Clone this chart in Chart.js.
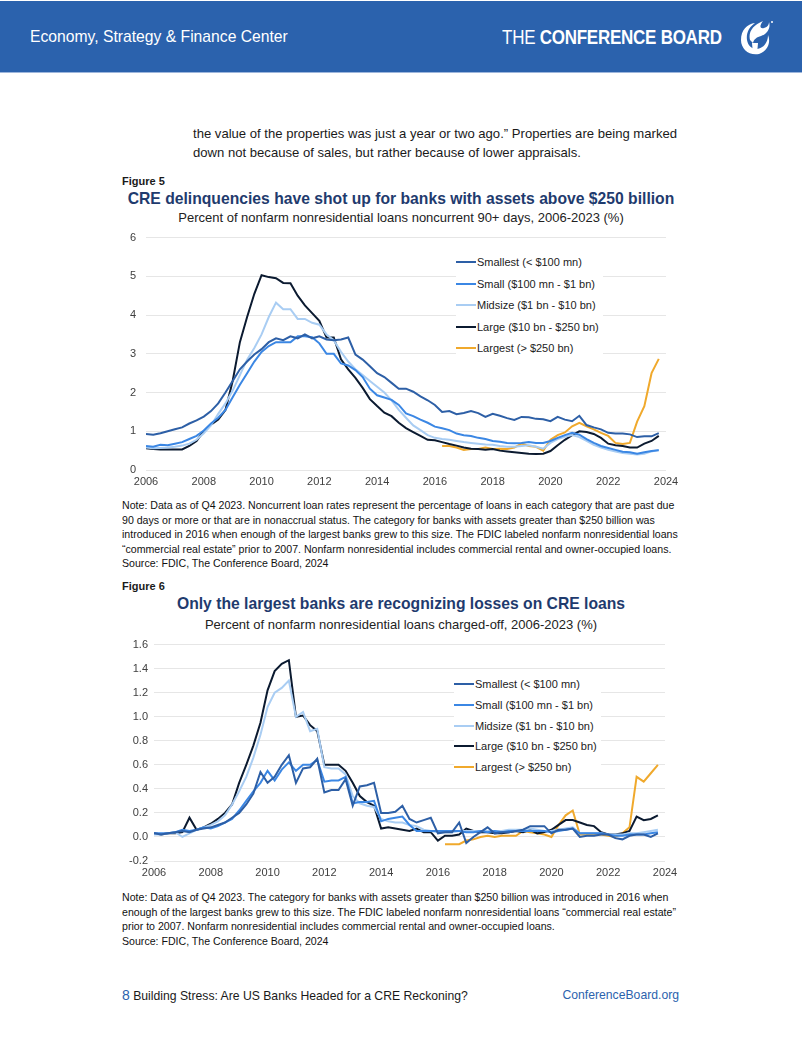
<!DOCTYPE html>
<html>
<head>
<meta charset="utf-8">
<script src="https://cdn.jsdelivr.net/npm/chart.js@4.4.1/dist/chart.umd.min.js"></script>
<style>
  body { margin: 0; width: 802px; height: 1037px; position: relative; overflow: hidden; background: #fff;
         font-family: "Liberation Sans", Arial, sans-serif; color: #1a1a1a; }
  .abs { position: absolute; white-space: nowrap; }
  #header { position: absolute; left: 0; top: 1px; width: 802px; height: 71px; background: #2b62ad; border-bottom: 1px solid #9db6dc; }
  .center { left: 0; width: 802px; text-align: center; }
  .fig { font-size: 11px; font-weight: bold; line-height: 12px; left: 122px; }
  .title { font-size: 15.7px; font-weight: bold; color: #1f3b6e; line-height: 20px; }
  .sub { font-size: 13px; line-height: 16px; color: #222; }
  .note { font-size: 10.6px; line-height: 14.5px; left: 122px; color: #111; }
  .chartbox { position: absolute; }
  .legend { position: absolute; background: #fff; padding: 0 4px 0 0; }
  .legend .row { position: relative; font-size: 11px; color: #222; white-space: nowrap; }
  .legend .sw { display: inline-block; width: 20px; height: 2px; vertical-align: middle; margin-right: 1px; position: relative; top: -1px; }
</style>
</head>
<body>

<div id="header">
  <div class="abs" style="left:30px;top:26px;font-size:15.7px;line-height:20px;color:#fff;">Economy, Strategy &amp; Finance Center</div>
  <div class="abs" style="left:502px;top:25px;font-size:20px;line-height:22px;color:#fff;transform:scaleX(0.85);transform-origin:0 50%;letter-spacing:-0.3px;">
    <span style="font-weight:normal;">THE </span><span style="font-weight:bold;">CONFERENCE BOARD</span>
  </div>
  <svg class="abs" style="left:733px;top:15px;" width="42" height="42" viewBox="0 0 42 42">
    <path d="M8 24 C8 14 14 8 22 7 C16 11 13 17 14 24 C15 30 19 33 24 33 C31 32 35 26 35 19 C38 26 35 35 26 38 C16 40 8 33 8 24 Z" fill="#fff"/>
    <path d="M17 24 C15 16 20 9 30 5 C26 10 27 13 31 12 C35 11 36 8 36 6 C38 12 34 18 28 20 C24 21 21 23 20 27 Z" fill="#fff"/>
    <path d="M19 27 L25 27 L24 38 L20 38 Z" fill="#fff"/>
    <circle cx="39" cy="6" r="1" fill="#fff"/>
  </svg>
</div>

<div class="abs" style="left:193px;top:124px;font-size:13.1px;line-height:19px;">the value of the properties was just a year or two ago.” Properties are being marked<br>down not because of sales, but rather because of lower appraisals.</div>

<div class="abs fig" style="top:175px;">Figure 5</div>
<div class="abs title center" style="top:189px;">CRE delinquencies have shot up for banks with assets above $250 billion</div>
<div class="abs sub center" style="top:210px;">Percent of nonfarm nonresidential loans noncurrent 90+ days, 2006-2023 (%)</div>
<div class="chartbox" style="left:110px;top:221px;width:576px;height:271px;"><canvas id="chart1"></canvas></div>
<div class="legend" id="legend1" style="left:456px;top:252px;"></div>
<div class="abs note" style="top:498px;">Note: Data as of Q4 2023. Noncurrent loan rates represent the percentage of loans in each category that are past due<br>90 days or more or that are in nonaccrual status. The category for banks with assets greater than $250 billion was<br>introduced in 2016 when enough of the largest banks grew to this size. The FDIC labeled nonfarm nonresidential loans<br>“commercial real estate” prior to 2007. Nonfarm nonresidential includes commercial rental and owner-occupied loans.<br>Source: FDIC, The Conference Board, 2024</div>

<div class="abs fig" style="top:580px;">Figure 6</div>
<div class="abs title center" style="top:594px;">Only the largest banks are recognizing losses on CRE loans</div>
<div class="abs sub center" style="top:617px;">Percent of nonfarm nonresidential loans charged-off, 2006-2023 (%)</div>
<div class="chartbox" style="left:110px;top:632px;width:575px;height:251px;"><canvas id="chart2"></canvas></div>
<div class="legend" id="legend2" style="left:454px;top:674px;"></div>
<div class="abs note" style="top:890px;">Note: Data as of Q4 2023. The category for banks with assets greater than $250 billion was introduced in 2016 when<br>enough of the largest banks grew to this size. The FDIC labeled nonfarm nonresidential loans “commercial real estate”<br>prior to 2007. Nonfarm nonresidential includes commercial rental and owner-occupied loans.<br>Source: FDIC, The Conference Board, 2024</div>

<div class="abs" style="left:122px;top:987px;font-size:12.2px;line-height:16px;"><span style="color:#2b62ad;font-size:14px;">8</span> Building Stress: Are US Banks Headed for a CRE Reckoning?</div>
<div class="abs" style="right:123px;top:987px;font-size:12.2px;line-height:16px;color:#2b62ad;">ConferenceBoard.org</div>

<script>
// Quarters 2006 Q1 .. 2023 Q4, plotted at year + (quarter-1)/4
const firstYear = 2006;
const lastYear = 2023;
const largestStart = 41; // 2016 Q2

const seriesLabels = ['Smallest (< $100 mn)', 'Small ($100 mn - $1 bn)', 'Midsize ($1 bn - $10 bn)', 'Large ($10 bn - $250 bn)', 'Largest (> $250 bn)'];
const seriesColors = ['#2d5fa6', '#3b87e4', '#a9cdf3', '#0b1a30', '#f0a92c'];

const xTicks = [2006, 2008, 2010, 2012, 2014, 2016, 2018, 2020, 2022, 2024];

// Figure 5: noncurrent 90+ days (%)
const noncurrentSmallest = [
  0.93, 0.91, 0.95, 1.00, 1.05, 1.10, 1.20, 1.28, 1.38, 1.52, 1.72, 2.00,
  2.30, 2.60, 2.80, 2.98, 3.12, 3.30, 3.40, 3.35, 3.45, 3.40, 3.50, 3.40,
  3.45, 3.37, 3.35, 3.37, 3.42, 2.98, 2.85, 2.68, 2.50, 2.40, 2.25, 2.10,
  2.10, 2.02, 1.90, 1.80, 1.68, 1.50, 1.52, 1.44, 1.47, 1.52, 1.47, 1.37,
  1.45, 1.40, 1.34, 1.29, 1.37, 1.36, 1.32, 1.31, 1.26, 1.37, 1.30, 1.26,
  1.40, 1.16, 1.10, 1.05, 0.96, 0.94, 0.94, 0.92, 0.85, 0.87, 0.87, 0.95
];
const noncurrentSmall = [
  0.62, 0.60, 0.65, 0.64, 0.68, 0.72, 0.80, 0.88, 1.02, 1.20, 1.35, 1.55,
  1.88, 2.20, 2.50, 2.80, 3.05, 3.20, 3.30, 3.30, 3.30, 3.45, 3.45, 3.43,
  3.27, 3.00, 3.00, 2.75, 2.70, 2.58, 2.40, 2.10, 1.93, 1.87, 1.81, 1.68,
  1.46, 1.39, 1.30, 1.22, 1.12, 1.08, 1.03, 0.94, 0.90, 0.88, 0.83, 0.80,
  0.75, 0.73, 0.70, 0.69, 0.70, 0.72, 0.70, 0.70, 0.75, 0.83, 0.90, 0.96,
  0.91, 0.80, 0.70, 0.62, 0.57, 0.52, 0.47, 0.46, 0.42, 0.46, 0.49, 0.51
];
const noncurrentMidsize = [
  0.58, 0.56, 0.57, 0.58, 0.60, 0.63, 0.68, 0.78, 0.95, 1.15, 1.45, 1.72,
  2.05, 2.45, 2.85, 3.15, 3.50, 3.95, 4.32, 4.15, 4.15, 3.90, 3.90, 3.80,
  3.75, 3.50, 3.35, 3.05, 2.80, 2.60, 2.45, 2.30, 2.15, 2.00, 1.80, 1.55,
  1.35, 1.15, 1.03, 0.90, 0.83, 0.80, 0.78, 0.75, 0.72, 0.70, 0.68, 0.66,
  0.65, 0.62, 0.60, 0.60, 0.62, 0.64, 0.60, 0.55, 0.70, 0.80, 0.86, 0.90,
  0.85, 0.75, 0.65, 0.58, 0.52, 0.48, 0.44, 0.42, 0.40, 0.42, 0.48, 0.52
];
const noncurrentLarge = [
  0.56, 0.54, 0.53, 0.53, 0.53, 0.53, 0.62, 0.75, 1.00, 1.17, 1.30, 1.55,
  2.30, 3.30, 3.95, 4.55, 5.03, 4.98, 4.95, 4.83, 4.82, 4.50, 4.25, 4.05,
  3.85, 3.42, 3.42, 2.86, 2.60, 2.38, 2.12, 1.83, 1.65, 1.48, 1.39, 1.22,
  1.08, 0.98, 0.88, 0.78, 0.77, 0.72, 0.67, 0.63, 0.58, 0.55, 0.54, 0.52,
  0.54, 0.50, 0.48, 0.46, 0.44, 0.42, 0.41, 0.42, 0.49, 0.64, 0.78, 0.90,
  1.00, 0.98, 0.93, 0.83, 0.68, 0.64, 0.62, 0.58, 0.58, 0.68, 0.75, 0.88
];
const noncurrentLargest = [
  0.62, 0.62, 0.58, 0.52, 0.54, 0.54, 0.58, 0.54, 0.55, 0.54, 0.58, 0.68,
  0.62, 0.60, 0.50, 0.78, 0.90, 0.97, 1.13, 1.22, 1.13, 1.05, 0.96, 0.88,
  0.70, 0.67, 0.70, 1.25, 1.65, 2.50, 2.87
];
const noncurrentTicks = [0, 1, 2, 3, 4, 5, 6];

// Figure 6: charged-off (%)
const chargeoffSmallest = [
  0.03, 0.02, 0.03, 0.04, 0.05, 0.04, 0.06, 0.07, 0.08, 0.10, 0.12, 0.16,
  0.20, 0.27, 0.36, 0.54, 0.45, 0.50, 0.60, 0.68, 0.45, 0.57, 0.58, 0.65,
  0.37, 0.39, 0.39, 0.48, 0.26, 0.42, 0.43, 0.45, 0.20, 0.20, 0.21, 0.26,
  0.15, 0.12, 0.14, 0.16, 0.03, 0.04, 0.04, 0.12, -0.05, 0.00, 0.04, 0.08,
  0.03, 0.04, 0.04, 0.05, 0.06, 0.09, 0.09, 0.09, 0.03, 0.06, 0.06, 0.07,
  0.00, 0.01, 0.01, 0.02, 0.02, -0.01, -0.02, 0.01, 0.02, 0.02, 0.00, 0.03
];
const chargeoffSmall = [
  0.03, 0.03, 0.03, 0.04, 0.06, 0.05, 0.06, 0.08, 0.07, 0.09, 0.12, 0.15,
  0.22, 0.30, 0.38, 0.45, 0.55, 0.47, 0.56, 0.62, 0.55, 0.60, 0.60, 0.64,
  0.46, 0.47, 0.47, 0.50, 0.28, 0.29, 0.29, 0.30, 0.13, 0.15, 0.16, 0.17,
  0.10, 0.05, 0.05, 0.05, 0.05, 0.05, 0.05, 0.05, 0.04, 0.04, 0.05, 0.04,
  0.05, 0.04, 0.05, 0.05, 0.05, 0.05, 0.05, 0.05, 0.04, 0.05, 0.06, 0.07,
  0.03, 0.03, 0.03, 0.03, 0.02, 0.01, 0.01, 0.02, 0.02, 0.02, 0.03, 0.04
];
const chargeoffMidsize = [
  0.02, 0.02, 0.03, 0.04, 0.00, 0.03, 0.06, 0.08, 0.10, 0.13, 0.18, 0.27,
  0.38, 0.50, 0.66, 0.85, 1.08, 1.20, 1.24, 1.30, 1.00, 1.04, 0.88, 0.90,
  0.58, 0.57, 0.57, 0.52, 0.34, 0.28, 0.26, 0.25, 0.15, 0.13, 0.12, 0.12,
  0.10, 0.09, 0.06, 0.05, 0.04, 0.04, 0.04, 0.05, 0.05, 0.05, 0.05, 0.05,
  0.05, 0.05, 0.06, 0.06, 0.06, 0.07, 0.06, 0.05, 0.05, 0.06, 0.07, 0.08,
  0.03, 0.03, 0.03, 0.03, 0.02, 0.02, 0.02, 0.03, 0.03, 0.04, 0.05, 0.06
];
const chargeoffLarge = [
  0.03, 0.02, 0.03, 0.03, 0.04, 0.16, 0.06, 0.08, 0.11, 0.15, 0.20, 0.27,
  0.45, 0.60, 0.76, 0.95, 1.22, 1.38, 1.44, 1.47, 1.00, 1.01, 0.93, 0.88,
  0.60, 0.60, 0.60, 0.55, 0.45, 0.34, 0.29, 0.26, 0.07, 0.08, 0.07, 0.06,
  0.05, 0.07, 0.04, 0.04, -0.03, 0.01, 0.01, 0.02, 0.07, 0.05, 0.04, 0.04,
  0.03, 0.03, 0.04, 0.05, 0.04, 0.06, 0.03, 0.04, 0.06, 0.10, 0.14, 0.14,
  0.12, 0.10, 0.09, 0.04, 0.02, 0.02, 0.03, 0.05, 0.17, 0.14, 0.15, 0.18
];
const chargeoffLargest = [
  -0.06, -0.06, -0.06, -0.03, -0.02, 0.00, 0.01, 0.00, 0.01, 0.01, 0.01, 0.05,
  0.04, 0.03, 0.02, 0.00, 0.10, 0.18, 0.22, 0.02, 0.02, 0.02, 0.02, 0.01,
  0.00, 0.03, 0.08, 0.50, 0.46, 0.53, 0.60
];
const chargeoffTicks = [-0.2, 0, 0.2, 0.4, 0.6, 0.8, 1.0, 1.2, 1.4, 1.6];

const quarterX = [];
for (let y = firstYear; y <= lastYear; y++) {
  for (let q = 0; q < 4; q++) quarterX.push(y + q / 4);
}

function toPoints(values, offset = 0) {
  return values.map((v, i) => ({ x: quarterX[i + offset], y: v }));
}

const tickFont = { family: '"Liberation Sans", Arial, sans-serif', size: 11 };

function makeChart(canvasId, series, yTicks, yWidth, yPad, decimals) {
  const datasets = series.map((s, i) => ({
    label: seriesLabels[i],
    data: toPoints(s.values, s.offset || 0),
    borderColor: seriesColors[i],
    backgroundColor: seriesColors[i],
    borderWidth: 2,
    pointRadius: 0,
    tension: 0,
    fill: false,
  }));
  return new Chart(document.getElementById(canvasId), {
    type: 'line',
    data: { datasets },
    options: {
      responsive: true,
      maintainAspectRatio: false,
      animation: false,
      layout: { padding: { top: 0, right: 20, bottom: 0, left: 0 } },
      plugins: { legend: { display: false }, tooltip: { enabled: false } },
      scales: {
        x: {
          type: 'linear',
          min: xTicks[0],
          max: xTicks[xTicks.length - 1],
          afterBuildTicks: (scale) => { scale.ticks = xTicks.map(v => ({ value: v })); },
          afterFit: (scale) => { scale.height = 22; },
          ticks: { font: tickFont, color: '#404040', padding: 5, maxRotation: 0, callback: (v) => String(v) },
          grid: { display: false, drawTicks: false },
          border: { display: false },
        },
        y: {
          min: yTicks[0],
          max: yTicks[yTicks.length - 1],
          afterBuildTicks: (scale) => { scale.ticks = yTicks.map(v => ({ value: v })); },
          afterFit: (scale) => { scale.width = yWidth; },
          ticks: { font: tickFont, color: '#404040', padding: yPad, callback: (v) => Number(v).toFixed(decimals) },
          grid: { color: '#e6e6e6', lineWidth: 1, drawTicks: false },
          border: { display: false },
        },
      },
    },
  });
}

function buildLegend(id, rowHeight) {
  const el = document.getElementById(id);
  seriesLabels.forEach((label, i) => {
    const row = document.createElement('div');
    row.className = 'row';
    row.style.height = rowHeight + 'px';
    row.style.lineHeight = rowHeight + 'px';
    const sw = document.createElement('span');
    sw.className = 'sw';
    sw.style.background = seriesColors[i];
    row.appendChild(sw);
    row.appendChild(document.createTextNode(label));
    el.appendChild(row);
  });
}

makeChart('chart1', [
  { values: noncurrentSmallest },
  { values: noncurrentSmall },
  { values: noncurrentMidsize },
  { values: noncurrentLarge },
  { values: noncurrentLargest, offset: largestStart },
], noncurrentTicks, 36, 10, 0);

makeChart('chart2', [
  { values: chargeoffSmallest },
  { values: chargeoffSmall },
  { values: chargeoffMidsize },
  { values: chargeoffLarge },
  { values: chargeoffLargest, offset: largestStart },
], chargeoffTicks, 44, 6, 1);

buildLegend('legend1', 21.5);
buildLegend('legend2', 20.8);
</script>
</body>
</html>
